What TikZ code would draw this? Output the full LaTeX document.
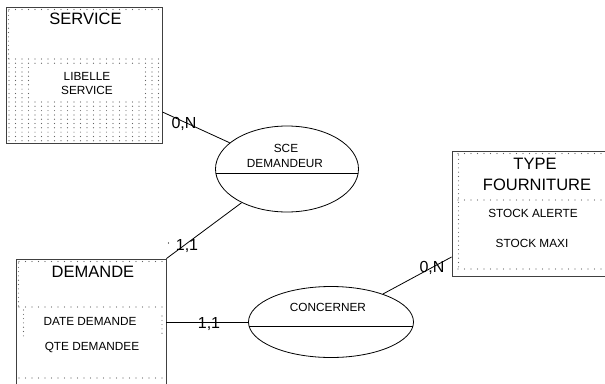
\documentclass[tikz,border=0pt]{standalone}
\usepackage{fontspec}
\setmainfont{Liberation Sans}
\usetikzlibrary{shapes.geometric,calc}
\definecolor{dotc}{gray}{0.38}
\definecolor{boxc}{gray}{0.25}
\newcommand\mydotrow[4]{\foreach \i in {0,...,#3} \fill[dotc] ({#1+#4*\i},#2) circle (0.6);}
\newcommand\mydotcol[4]{\foreach \i in {0,...,#3} \fill[dotc] (#1,{#2+#4*\i}) circle (0.55);}
\newcommand\mydotgrid[6]{\foreach \i in {0,...,#3} \foreach \j in {0,...,#4} \fill[dotc] ({#1+#5*\i},{#2+#6*\j}) circle (0.6);}
\begin{document}
\begin{tikzpicture}[x=1pt,y=-1pt,
  entbox/.style={draw=boxc,line width=0.9pt,rectangle,inner sep=0pt},
  relell/.style={draw=black,line width=0.8pt,ellipse,inner sep=0pt},
  title/.style={inner sep=0pt,font=\fontsize{16.5}{17}\selectfont},
  small/.style={inner sep=0pt,font=\fontsize{11.8}{13}\selectfont},
  card/.style={inner sep=0pt,anchor=base,font=\fontsize{16}{17}\selectfont},
  link/.style={draw=black,line width=0.8pt}]
\useasboundingbox (0,0) rectangle (605,383);
\clip (0,0) rectangle (605,383);

% ---------- SERVICE ----------
\mydotrow{9}{9.5}{23}{6.5}
\mydotcol{8.5}{11}{11}{4.3}
\mydotgrid{9}{59}{23}{19}{6.5}{4.3}
\fill[white] (30,65) rectangle (140,100);
\node[entbox,minimum width=156pt,minimum height=136pt] (svc) at (84,75) {};
\node[title] (svct) at (85.5,18.7) {SERVICE};
\node[small] (svca) at (87,76) {LIBELLE};
\node[small] (svcb) at (87,90) {SERVICE};

% ---------- DEMANDE ----------
\mydotrow{19}{261.5}{22}{6.5}
\mydotcol{18.5}{263}{10}{4.3}
\mydotrow{19}{307}{22}{6.5}
\mydotcol{23.5}{310}{6}{4.3}
\mydotcol{162}{316}{4}{4.3}
\mydotrow{19}{378}{22}{6.5}
\node[entbox,minimum width=150pt,minimum height=150pt] (dem) at (91,334) {};
\node[title] (demt) at (93,272) {DEMANDE};
\node[small] (dema) at (90,321) {DATE DEMANDE};
\node[small] (demb) at (92,347) {QTE DEMANDEE};

% ---------- TYPE FOURNITURE ----------
\mydotrow{458}{153.5}{23}{6.5}
\mydotcol{458.5}{155}{26}{4.3}
\mydotrow{458}{200}{23}{6.5}
\mydotrow{458}{269}{23}{6.5}
\node[entbox,minimum width=180pt,minimum height=125pt] (typ) at (542,213.5) {};
\node[title] (typt) at (535,163.5) {TYPE};
\node[title] (typu) at (537,185) {FOURNITURE};
\node[small] (typa) at (533,213) {STOCK ALERTE};
\node[small] (typb) at (532,243) {STOCK MAXI};

% ---------- relations ----------
\node[relell,minimum width=143pt,minimum height=86pt] (sce) at (287,169) {};
\draw[line width=0.8pt] ($(sce)+(-71.2,4)$) -- ($(sce)+(71.2,4)$);
\node[small] (scea) at (286,148) {SCE};
\node[small] (sceb) at (285,163) {DEMANDEUR};

\node[relell,minimum width=165pt,minimum height=71pt] (cnc) at (331,322) {};
\draw[line width=0.8pt] ($(cnc)+(-82,4)$) -- ($(cnc)+(82,4)$);
\node[small] (cnct) at (328,307) {CONCERNER};

% ---------- links ----------
\draw[link] ([yshift=-37pt]svc.east) -- (sce);
\draw[link] (dem.north east) -- (sce);
\draw[link] (dem.east |- cnc) -- (cnc);
\draw[link] ([yshift=-43.5pt]typ.west) -- (cnc);

% ---------- cardinalities ----------
\node[card] (c1) at (184,128) {0,N};
\node[card] (c2) at (187,250.5) {1,1};
\fill (168.5,243) circle (0.6);
\node[card] (c3) at (209,328.5) {1,1};
\node[card] (c4) at (432,272) {0,N};
\end{tikzpicture}
\end{document}
